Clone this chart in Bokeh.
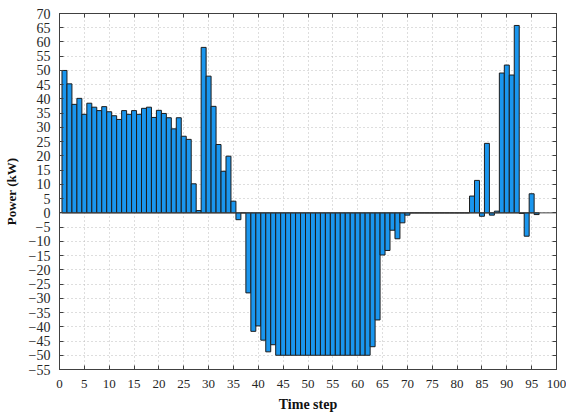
from bokeh.plotting import figure
from bokeh.models import (ColumnDataSource, Range1d, LinearAxis, SingleIntervalTicker, Span,
                          CustomJSTickFormatter)
from bokeh.embed import file_html
from bokeh.resources import INLINE

# Data
time_step = list(range(1, 97))
power_kw = [50.0, 45.3, 38.1, 40.2, 34.6, 38.5, 37.1, 35.9, 37.3, 35.5,
            34.1, 32.8, 35.9, 34.6, 35.9, 34.6, 36.7, 37.1, 33.5, 36.0,
            34.9, 33.4, 29.5, 33.4, 26.9, 25.8, 10.2, 0.8, 58.1, 48.0,
            37.4, 24.0, 14.6, 19.9, 4.1, -2.4, 0.0, -28.1, -41.6, -39.7,
            -44.7, -48.8, -46.3,
            -50.0, -50.0, -50.0, -50.0, -50.0, -50.0, -50.0, -50.0, -50.0, -50.0,
            -50.0, -50.0, -50.0, -50.0, -50.0, -50.0, -50.0, -50.0, -50.0,
            -47.0, -37.6, -14.8, -13.2, -6.1, -9.1, -3.5, -0.8,
            0.0, 0.0, 0.0, 0.0, 0.0, 0.0, 0.0, 0.0, 0.0, 0.0, 0.0, 0.0,
            5.9, 11.4, -1.2, 24.4, -0.8, 0.6, 49.1, 51.9, 48.4, 65.8,
            -0.2, -8.2, 6.7, -0.6]
x_label = "Time step"
y_label = "Power (kW)"

src = ColumnDataSource(dict(x=time_step, top=power_kw))

p = figure(width=566, height=414, output_backend="svg", toolbar_location=None,
           x_range=Range1d(0, 100), y_range=Range1d(-55, 70),
           min_border_left=54, min_border_right=10, min_border_top=13,
           min_border_bottom=45)

p.vbar(x="x", top="top", bottom=0, width=1.0, source=src,
       fill_color="#1a96ee", line_color="#1c1c1c", line_width=1)

p.add_layout(Span(location=0, dimension="width", line_color="#404040", line_width=1))

font = "Liberation Serif"
for ax in (p.xaxis[0], p.yaxis[0]):
    ax.major_label_text_font = font
    ax.major_label_text_color = "#262626"
    ax.axis_label_text_font = font
    ax.axis_label_text_font_style = "bold"
    ax.axis_label_text_color = "#111111"
    ax.major_tick_in = 4
    ax.major_tick_out = 0
    ax.minor_tick_line_color = None
    ax.axis_line_color = "#404040"
    ax.major_tick_line_color = "#404040"

p.xaxis[0].ticker = SingleIntervalTicker(interval=5)
p.yaxis[0].ticker = SingleIntervalTicker(interval=5)
p.xaxis[0].axis_label = x_label
p.yaxis[0].axis_label = y_label
p.xaxis[0].major_label_text_font_size = "13px"
p.yaxis[0].major_label_text_font_size = "14px"
p.xaxis[0].axis_label_text_font_size = "14px"
p.yaxis[0].axis_label_text_font_size = "13px"
p.xaxis[0].major_label_standoff = 6
p.yaxis[0].major_label_standoff = 5
p.xaxis[0].axis_label_standoff = 6
p.yaxis[0].axis_label_standoff = 7

blank = CustomJSTickFormatter(code="return '';")
top_ax = LinearAxis(ticker=SingleIntervalTicker(interval=5), formatter=blank)
right_ax = LinearAxis(ticker=SingleIntervalTicker(interval=5),
                      formatter=CustomJSTickFormatter(code="return '';"))
for ax in (top_ax, right_ax):
    ax.major_label_standoff = 0
    ax.major_tick_in = 4
    ax.major_tick_out = 0
    ax.minor_tick_line_color = None
    ax.axis_line_color = "#404040"
    ax.major_tick_line_color = "#404040"
p.add_layout(top_ax, "above")
p.add_layout(right_ax, "right")

for g in (p.xgrid[0], p.ygrid[0]):
    g.ticker = SingleIntervalTicker(interval=5)
    g.grid_line_color = "#bdbdbd"
    g.grid_line_dash = "1 3"
    g.grid_line_width = 1

p.outline_line_color = "#404040"
p.background_fill_color = "white"
p.border_fill_color = "white"

open("out.html", "w").write(file_html(p, INLINE))
